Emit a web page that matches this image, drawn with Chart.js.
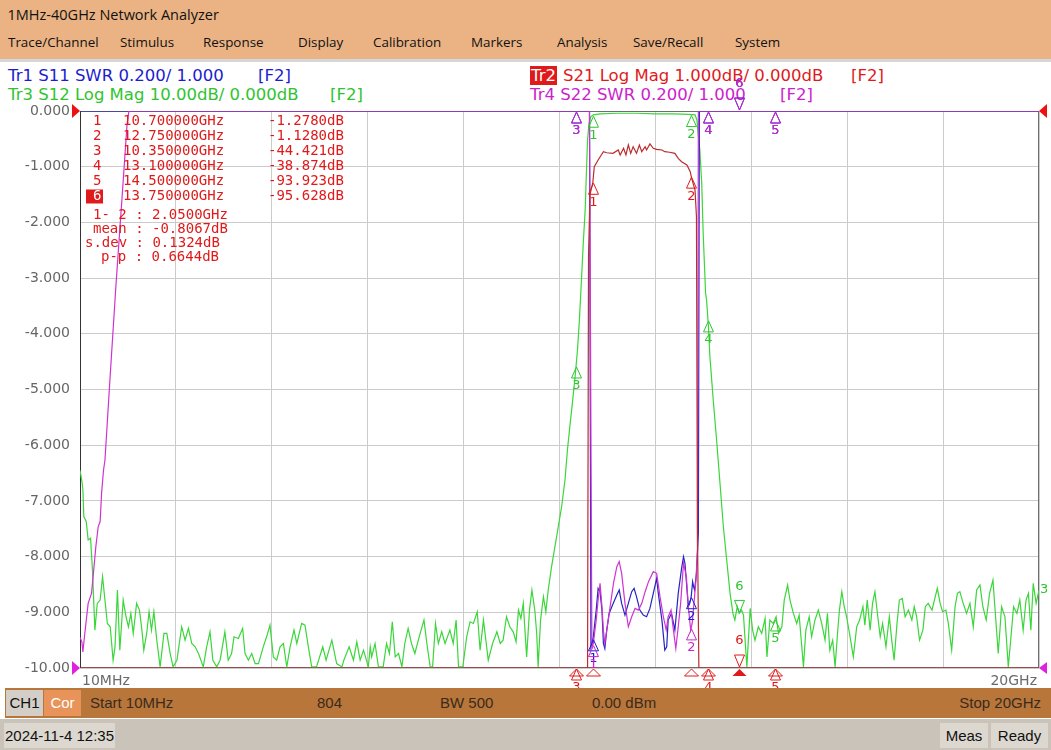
<!DOCTYPE html>
<html><head><meta charset="utf-8">
<script src="https://cdn.jsdelivr.net/npm/chart.js@4.4.1/dist/chart.umd.min.js"></script>
<style>
html,body{margin:0;padding:0}
body{width:1051px;height:750px;overflow:hidden;background:#fff;position:relative;font-family:"Open Sans",sans-serif}
.a{position:absolute;white-space:pre}
#title{left:0;top:0;width:1051px;height:29px;line-height:30px;background:#ebb384;font-size:14.5px;color:#111}
#menu{left:0;top:29px;width:1051px;height:30px;background:#ebb384}
#menu span{position:absolute;top:0;line-height:27px;font-size:13.4px;color:#111}
#sep{left:0;top:59px;width:1051px;height:3px;background:#d6d6d6}
.hd{font-family:"DejaVu Sans",sans-serif;font-size:16.5px;height:19px;line-height:19px}
#status{left:5px;top:688px;width:1046px;height:30px;background:#b8763a}
#status span{position:absolute;top:0;line-height:30px;font-family:"Liberation Sans",Arial,sans-serif;font-size:15px;color:#3a2a1c}
#bottom{left:0;top:719px;width:1051px;height:31px;background:#c9c3b9}
.box{position:absolute;font-family:"Liberation Sans",Arial,sans-serif;font-size:15px;color:#111;text-align:center}
</style></head>
<body>
<div id="title" class="a">  1MHz-40GHz Network Analyzer</div>
<div id="menu" class="a">
<span style="left:8px">Trace/Channel</span><span style="left:120px">Stimulus</span><span style="left:203px">Response</span><span style="left:298px">Display</span><span style="left:373px">Calibration</span><span style="left:471px">Markers</span><span style="left:557px">Analysis</span><span style="left:633px">Save/Recall</span><span style="left:735px">System</span>
</div>
<div id="sep" class="a"></div>
<div class="a hd" style="left:8px;top:66px;color:#1c1cd0">Tr1 S11 SWR 0.200/ 1.000</div>
<div class="a hd" style="left:258px;top:66px;color:#1c1cd0">[F2]</div>
<div class="a hd" style="left:8px;top:85px;color:#2fc42f">Tr3 S12 Log Mag 10.00dB/ 0.000dB</div>
<div class="a hd" style="left:330px;top:85px;color:#2fc42f">[F2]</div>
<div class="a hd" style="left:530px;top:66px;color:#fff;background:#e01a1a;padding:0 1px">Tr2</div>
<div class="a hd" style="left:563px;top:66px;color:#e01a1a">S21 Log Mag 1.000dB/ 0.000dB</div>
<div class="a hd" style="left:851px;top:66px;color:#e01a1a">[F2]</div>
<div class="a hd" style="left:530px;top:85px;color:#cc22cc">Tr4 S22 SWR 0.200/ 1.000</div>
<div class="a hd" style="left:780px;top:85px;color:#cc22cc">[F2]</div>
<canvas id="c" class="a" style="left:0;top:62px;width:1051px;height:626px"></canvas>
<div id="status" class="a">
<div class="box" style="left:1px;top:2px;width:37px;height:26px;line-height:26px;background:#d3cfc8">CH1</div>
<div class="box" style="left:39px;top:2px;width:37px;height:26px;line-height:26px;background:#e8935a;color:#fff">Cor</div>
<span style="left:85px">Start 10MHz</span><span style="left:312px">804</span><span style="left:435px">BW 500</span><span style="left:587px">0.00 dBm</span><span style="right:10px">Stop 20GHz</span>
</div>
<div id="bottom" class="a">
<div class="box" style="left:4px;top:4px;width:111px;height:25px;line-height:25px;background:#dcd8d0">2024-11-4 12:35</div>
<div class="box" style="left:940px;top:4px;width:48px;height:25px;line-height:25px;background:#dcd8d0">Meas</div>
<div class="box" style="left:991px;top:4px;width:57px;height:25px;line-height:25px;background:#dcd8d0">Ready</div>
</div>
<script>
// ---------- data ----------
const xStartGHz = 0.01, xStopGHz = 20, xDivisions = 10;
const xEndLabels = ['10MHz', '20GHz'];
const yTickValues = [0, -1, -2, -3, -4, -5, -6, -7, -8, -9, -10];
const yTickLabels = ['0.000','-1.000','-2.000','-3.000','-4.000','-5.000','-6.000','-7.000','-8.000','-9.000','-10.00'];

// S21 [GHz, dB] (1 dB/div, values below -10 dB shown clipped at the bottom)
const s21Points = [[0.01,-10],[10.59,-10],[10.61,-2.6],[10.64,-1.5],[10.70,-1.28],[10.73,-1.0],[10.81,-0.88],[10.92,-0.73],[10.99,-0.75],[11.12,-0.76],
[11.23,-0.70],[11.27,-0.79],[11.34,-0.67],[11.39,-0.79],[11.44,-0.61],[11.49,-0.76],[11.54,-0.64],[11.61,-0.76],[11.67,-0.61],[11.72,-0.73],
[11.79,-0.64],[11.82,-0.70],[11.89,-0.59],[11.96,-0.67],[12.03,-0.69],[12.14,-0.70],[12.20,-0.73],[12.30,-0.74],[12.41,-0.76],[12.48,-0.85],
[12.55,-0.91],[12.66,-0.97],[12.73,-1.09],[12.76,-1.21],[12.83,-1.42],[12.86,-1.90],[12.88,-7.5],[12.91,-10],[20,-10]];

// S12 [GHz, dB] (10 dB/div)
const s12Points = [[0.01,-64.5],[0.05,-66.5],[0.07,-68.0],[0.09,-72.8],[0.14,-73.7],[0.18,-77.0],[0.23,-76.7],[0.27,-82.4],[0.32,-93.2],[0.37,-88.4],
[0.43,-87.8],[0.48,-83.6],[0.53,-87.8],[0.58,-92.0],[0.64,-92.6],[0.70,-98.6],[0.74,-96.2],[0.79,-86.0],[0.84,-96.8],[0.91,-87.8],
[0.97,-90.8],[1.02,-92.6],[1.07,-90.2],[1.12,-93.8],[1.19,-88.4],[1.25,-89.6],[1.30,-93.2],[1.34,-96.8],[1.40,-93.8],[1.45,-89.9],
[1.50,-93.2],[1.55,-89.9],[1.61,-95.0],[1.68,-99.8],[1.76,-93.8],[1.82,-93.8],[1.89,-97.4],[1.95,-99.8],[2.03,-98.6],[2.13,-92.6],
[2.20,-95.0],[2.27,-92.9],[2.34,-95.6],[2.41,-96.2],[2.48,-97.4],[2.58,-99.8],[2.65,-96.2],[2.72,-93.5],[2.78,-98.6],[2.86,-99.8],
[2.93,-98.6],[3.03,-93.5],[3.10,-98.6],[3.17,-97.4],[3.22,-94.4],[3.31,-94.7],[3.40,-92.9],[3.45,-97.4],[3.52,-98.6],[3.59,-97.4],
[3.66,-99.2],[3.73,-99.2],[3.83,-96.2],[3.90,-94.4],[3.97,-92.3],[4.04,-98.0],[4.11,-98.6],[4.18,-96.2],[4.25,-95.6],[4.32,-99.8],
[4.39,-96.2],[4.47,-93.2],[4.53,-95.6],[4.63,-92.0],[4.70,-92.3],[4.77,-96.2],[4.84,-99.8],[4.94,-99.8],[5.07,-96.2],[5.14,-98.6],
[5.26,-95.0],[5.36,-99.2],[5.47,-99.8],[5.51,-98.6],[5.62,-96.2],[5.71,-98.6],[5.78,-95.3],[5.85,-98.6],[5.92,-96.8],[6.02,-99.8],
[6.06,-96.2],[6.09,-98.0],[6.16,-95.6],[6.23,-99.8],[6.33,-99.8],[6.40,-95.6],[6.46,-97.4],[6.52,-91.7],[6.58,-98.0],[6.65,-97.4],
[6.72,-99.8],[6.78,-95.6],[6.85,-92.9],[6.92,-95.6],[6.99,-97.4],[7.08,-94.4],[7.18,-91.4],[7.24,-95.6],[7.31,-99.8],[7.36,-99.8],
[7.42,-92.0],[7.48,-95.6],[7.55,-93.5],[7.62,-95.6],[7.72,-93.2],[7.79,-95.6],[7.85,-91.4],[7.90,-99.8],[7.99,-99.8],[8.07,-94.4],
[8.14,-91.7],[8.21,-92.0],[8.29,-89.9],[8.35,-96.8],[8.42,-91.4],[8.52,-98.6],[8.61,-95.6],[8.70,-93.5],[8.77,-95.6],[8.83,-95.0],
[8.90,-90.8],[8.97,-92.6],[9.04,-93.5],[9.10,-95.3],[9.15,-89.6],[9.20,-91.1],[9.25,-88.4],[9.32,-98.0],[9.38,-89.6],[9.43,-86.0],
[9.49,-89.6],[9.53,-93.8],[9.56,-99.8],[9.61,-91.4],[9.67,-87.2],[9.72,-89.9],[9.77,-86.0],[9.84,-81.8],[9.91,-78.2],[9.98,-74.6],
[10.05,-71.0],[10.12,-66.2],[10.17,-60.9],[10.22,-56.7],[10.28,-51.9],[10.33,-47.7],[10.38,-42.9],[10.42,-37.5],[10.47,-29.1],[10.50,-23.8],
[10.54,-17.8],[10.57,-10.0],[10.59,-5.2],[10.62,-2.2],[10.66,-1.0],[10.71,-0.7],[10.85,-0.5],[11.20,-0.4],[11.60,-0.4],[12.00,-0.5],
[12.40,-0.5],[12.70,-0.6],[12.83,-0.7],[12.87,-1.6],[12.90,-4.6],[12.93,-7.0],[12.97,-13.0],[13.00,-22.0],[13.05,-32.7],[13.07,-33.9],
[13.11,-38.7],[13.14,-44.1],[13.21,-51.9],[13.28,-59.1],[13.35,-66.8],[13.42,-74.6],[13.49,-80.6],[13.56,-86.6],[13.62,-90.2],[13.66,-91.4],
[13.71,-89.0],[13.75,-90.2],[13.80,-89.6],[13.84,-90.5],[13.91,-99.8],[13.98,-89.3],[14.03,-93.2],[14.08,-95.0],[14.15,-92.6],[14.22,-93.8],
[14.29,-91.1],[14.33,-98.0],[14.39,-91.4],[14.46,-92.0],[14.52,-90.8],[14.57,-93.8],[14.64,-92.6],[14.69,-87.8],[14.76,-85.1],[14.81,-87.8],
[14.88,-90.2],[14.95,-92.0],[15.00,-90.5],[15.05,-95.6],[15.09,-99.8],[15.14,-93.2],[15.21,-90.8],[15.26,-94.4],[15.33,-91.4],[15.40,-89.6],
[15.47,-92.0],[15.54,-95.0],[15.59,-90.2],[15.64,-96.8],[15.70,-95.0],[15.75,-99.8],[15.80,-93.8],[15.84,-89.6],[15.89,-86.3],[15.94,-89.0],
[15.99,-90.8],[16.05,-93.8],[16.13,-98.0],[16.20,-92.6],[16.26,-91.4],[16.33,-89.0],[16.37,-92.3],[16.42,-87.8],[16.48,-93.2],[16.53,-88.4],
[16.58,-86.3],[16.64,-90.8],[16.69,-94.4],[16.74,-92.0],[16.81,-96.2],[16.88,-90.8],[16.93,-95.0],[16.98,-98.6],[17.04,-92.0],[17.09,-87.8],
[17.15,-87.5],[17.21,-90.8],[17.28,-89.6],[17.35,-91.4],[17.40,-89.0],[17.45,-90.8],[17.51,-95.0],[17.58,-93.2],[17.63,-89.0],[17.69,-88.4],
[17.77,-89.6],[17.82,-87.8],[17.88,-85.7],[17.94,-88.4],[17.99,-89.9],[18.06,-89.6],[18.11,-92.0],[18.18,-96.8],[18.25,-89.0],[18.30,-86.6],
[18.35,-86.3],[18.42,-88.4],[18.49,-90.2],[18.56,-88.4],[18.63,-92.6],[18.70,-86.0],[18.77,-85.1],[18.83,-89.0],[18.90,-91.4],[18.97,-86.6],
[19.04,-84.2],[19.08,-89.0],[19.15,-97.4],[19.22,-89.0],[19.29,-90.8],[19.36,-99.8],[19.41,-95.0],[19.47,-89.0],[19.54,-90.2],[19.60,-87.8],
[19.67,-93.2],[19.73,-87.8],[19.78,-86.6],[19.83,-93.2],[19.88,-84.8],[19.94,-88.4],[20.00,-86.0]];

// S11 [GHz, SWR] (0.2/div, 1.000 at bottom line; >3 shown clipped at top)
const s11Points = [[0.01,3.0],[10.63,3.0],[10.66,1.076],[10.71,1.112],[10.77,1.208],[10.81,1.286],[10.85,1.274],[10.89,1.208],[10.92,1.088],[10.95,1.07],
[10.99,1.136],[11.04,1.196],[11.11,1.226],[11.20,1.262],[11.25,1.28],[11.30,1.232],[11.37,1.19],[11.44,1.232],[11.51,1.274],[11.56,1.286],
[11.61,1.256],[11.68,1.208],[11.75,1.19],[11.82,1.184],[11.89,1.214],[11.96,1.268],[12.03,1.322],[12.06,1.274],[12.14,1.172],[12.20,1.064],
[12.24,1.076],[12.27,1.172],[12.34,1.196],[12.41,1.136],[12.48,1.268],[12.55,1.358],[12.59,1.40],[12.62,1.376],[12.69,1.22],[12.72,1.232],
[12.75,1.256],[12.78,1.31],[12.80,1.292],[12.82,1.28],[12.86,1.34],[12.90,1.484],[12.92,3.0],[20,3.0]];

// S22 [GHz, SWR]
const s22Points = [[0.01,1.11],[0.05,1.094],[0.07,1.058],[0.11,1.124],[0.18,1.232],[0.25,1.268],[0.29,1.34],[0.34,1.436],[0.39,1.508],[0.43,1.526],
[0.46,1.628],[0.50,1.71],[0.53,1.746],[0.64,2.052],[0.76,2.376],[0.89,2.698],[0.99,2.95],[1.03,3.0],[10.63,3.0],[10.68,1.076],
[10.71,1.088],[10.77,1.172],[10.81,1.244],[10.85,1.304],[10.89,1.22],[10.92,1.136],[10.95,1.088],[10.99,1.136],[11.06,1.22],[11.13,1.304],
[11.20,1.364],[11.25,1.382],[11.30,1.34],[11.37,1.232],[11.44,1.148],[11.51,1.184],[11.58,1.214],[11.65,1.208],[11.72,1.232],[11.79,1.274],
[11.86,1.31],[11.96,1.346],[12.03,1.34],[12.10,1.256],[12.17,1.184],[12.23,1.136],[12.27,1.184],[12.33,1.208],[12.38,1.136],[12.43,1.07],
[12.48,1.148],[12.53,1.232],[12.59,1.376],[12.65,1.328],[12.69,1.22],[12.74,1.136],[12.77,1.16],[12.82,1.256],[12.85,1.316],[12.88,1.424],
[12.90,3.0],[20,3.0]];

const markerGHz = [10.7, 12.75, 10.35, 13.1, 14.5, 13.75];
const markerS21dB = [-1.278, -1.128, -44.421, -38.874, -93.923, -95.628];
const activeMarker = 6;
const statLabels = ['1- 2 :', 'mean :', 's.dev :', 'p-p :'];
const statValues = ['2.0500GHz', '-0.8067dB', '0.1324dB', '0.6644dB'];

// ---------- styles ----------
const COL = {
  s11: '#2424c4', s12: '#3ad63a', s21: '#bc2c2e', s22: '#d232d2',
  t11: '#1c1cd0', t12: '#2fc42f', t21: '#e01a1a', t22: '#cc22cc'
};
const traces = {
  s21: {pts: s21Points, axis: 'y',    line: COL.s21, text: COL.t21},
  s22: {pts: s22Points, axis: 'ySWR', line: COL.s22, text: COL.t22},
  s11: {pts: s11Points, axis: 'ySWR', line: COL.s11, text: COL.t11},
  s12: {pts: s12Points, axis: 'yS12', line: COL.s12, text: COL.t12}
};
const drawOrder = ['s21', 's22', 's11', 's12']; // first = on top

function valueAt(pts, f) {
  for (let i = 1; i < pts.length; i++) {
    if (pts[i][0] >= f) {
      const [x0, y0] = pts[i - 1], [x1, y1] = pts[i];
      return y0 + (y1 - y0) * (f - x0) / (x1 - x0);
    }
  }
  return pts[pts.length - 1][1];
}
function tri(ctx, p, color, fill) {
  ctx.beginPath(); ctx.moveTo(p[0][0], p[0][1]); ctx.lineTo(p[1][0], p[1][1]); ctx.lineTo(p[2][0], p[2][1]); ctx.closePath();
  if (fill) { ctx.fillStyle = color; ctx.fill(); } else { ctx.strokeStyle = color; ctx.lineWidth = 1; ctx.stroke(); }
}

const overlay = {
  id: 'overlay',
  beforeDatasetsDraw(chart) {
    const {ctx, chartArea: a} = chart;
    ctx.save();
    ctx.strokeStyle = '#6e6e6e'; ctx.lineWidth = 1;
    ctx.strokeRect(a.left + 0.5, a.top + 0.5, a.right - a.left - 1, a.bottom - a.top - 1);
    ctx.strokeStyle = '#333'; ctx.beginPath(); ctx.moveTo(a.left + 0.5, a.top); ctx.lineTo(a.left + 0.5, a.bottom); ctx.stroke();
    ctx.restore();
  },
  afterDatasetsDraw(chart) {
    const {ctx, chartArea: a, scales} = chart;
    const xs = scales.x;
    ctx.save();
    // reference position indicators
    tri(ctx, [[a.left - 8, a.top - 7], [a.left - 8, a.top + 7], [a.left, a.top]], '#ee1111', true);
    tri(ctx, [[a.left - 8, a.bottom - 7], [a.left - 8, a.bottom + 7], [a.left, a.bottom]], '#e020e0', true);
    tri(ctx, [[a.right + 8, a.top - 7], [a.right + 8, a.top + 7], [a.right, a.top]], '#ee1111', true);
    tri(ctx, [[a.right + 8, a.bottom - 6], [a.right + 8, a.bottom + 6], [a.right, a.bottom]], '#e020e0', true);

    // markers on every trace
    ctx.font = '13px "DejaVu Sans"';
    ctx.textAlign = 'center'; ctx.textBaseline = 'middle';
    ['s11', 's12', 's22', 's21'].forEach(k => {
      const t = traces[k], sc = scales[t.axis];
      markerGHz.forEach((f, i) => {
        let v = Math.min(sc.max, Math.max(sc.min, valueAt(t.pts, f)));
        const px = Math.round(xs.getPixelForValue(f)) + 0.5, py = sc.getPixelForValue(v);
        ctx.fillStyle = t.text;
        if (i + 1 === activeMarker) {
          tri(ctx, [[px - 5, py - 13], [px + 5, py - 13], [px, py - 1]], t.text, false);
          ctx.fillText(String(i + 1), px, py - 27);
        } else {
          tri(ctx, [[px, py + 1], [px - 5, py + 12], [px + 5, py + 12]], t.text, false);
          ctx.fillText(String(i + 1), px, py + 20);
        }
      });
    });
    // stimulus indicators of the active trace below the axis
    markerGHz.forEach((f, i) => {
      const px = Math.round(xs.getPixelForValue(f)) + 0.5;
      tri(ctx, [[px, a.bottom + 1], [px - 7, a.bottom + 8], [px + 7, a.bottom + 8]], COL.t21, i + 1 === activeMarker);
    });
    // trace number at end of S12
    const last = s12Points[s12Points.length - 1];
    ctx.fillStyle = COL.t12; ctx.textAlign = 'left';
    ctx.fillText('3', a.right + 1, scales.yS12.getPixelForValue(last[1]));
    // x end labels
    ctx.font = '14px "DejaVu Sans"'; ctx.fillStyle = '#6a6a6a';
    ctx.textAlign = 'left'; ctx.fillText(xEndLabels[0], a.left + 2, a.bottom + 13);
    ctx.textAlign = 'right'; ctx.fillText(xEndLabels[1], a.right - 2, a.bottom + 13);
    ctx.restore();
  },
  afterDraw(chart) {
    const {ctx} = chart;
    const off = 62;
    ctx.save();
    ctx.font = '14px "DejaVu Sans Mono"'; ctx.textBaseline = 'middle'; ctx.textAlign = 'left';
    markerGHz.forEach((f, i) => {
      const y = 121.5 + i * 15 - off;
      if (i + 1 === activeMarker) {
        ctx.fillStyle = '#e01a1a'; ctx.fillRect(86, y - 7, 17, 14);
        ctx.fillStyle = '#fff';
      } else ctx.fillStyle = '#e01a1a';
      ctx.fillText(String(i + 1), 93, y);
      ctx.fillStyle = '#e01a1a';
      ctx.fillText(f.toFixed(6) + 'GHz', 123, y);
      ctx.fillText(markerS21dB[i].toPrecision(5) + 'dB', 268, y);
    });
    const sx = [93, 93, 85, 101], sy = [215, 229.5, 243.5, 257];
    statLabels.forEach((l, i) => ctx.fillText(l + ' ' + statValues[i], sx[i], sy[i] - off));
    ctx.restore();
  }
};

const datasets = drawOrder.map(k => ({
  label: k,
  data: traces[k].pts.map(([x, y]) => ({x, y})),
  yAxisID: traces[k].axis,
  borderColor: traces[k].line,
  borderWidth: 1.2,
  pointRadius: 0,
  fill: false,
  tension: 0
}));

new Chart(document.getElementById('c'), {
  type: 'line',
  data: {datasets},
  options: {
    responsive: false, animation: false,
    layout: {padding: {left: 0, right: 12, top: 49, bottom: 0}},
    plugins: {legend: {display: false}, tooltip: {enabled: false}},
    scales: {
      x: {
        type: 'linear', min: xStartGHz, max: xStopGHz,
        afterBuildTicks: s => { s.ticks = Array.from({length: xDivisions + 1}, (_, i) => ({value: xStartGHz + i * (xStopGHz - xStartGHz) / xDivisions})); },
        ticks: {display: false},
        grid: {color: '#cbcbcb', drawTicks: false},
        border: {display: false},
        afterFit: s => { s.height = 20; }
      },
      y: {
        min: -10, max: 0,
        afterBuildTicks: s => { s.ticks = yTickValues.map(v => ({value: v})); },
        ticks: {
          callback: v => yTickLabels[yTickValues.indexOf(v)],
          font: {family: 'DejaVu Sans', size: 14}, color: '#666', padding: 10
        },
        grid: {color: '#cbcbcb', drawTicks: false},
        border: {display: false},
        afterFit: s => { s.width = 80; }
      },
      yS12: {display: false, min: -100, max: 0},
      ySWR: {display: false, min: 1, max: 3}
    }
  },
  plugins: [overlay]
});
</script>
</body></html>
